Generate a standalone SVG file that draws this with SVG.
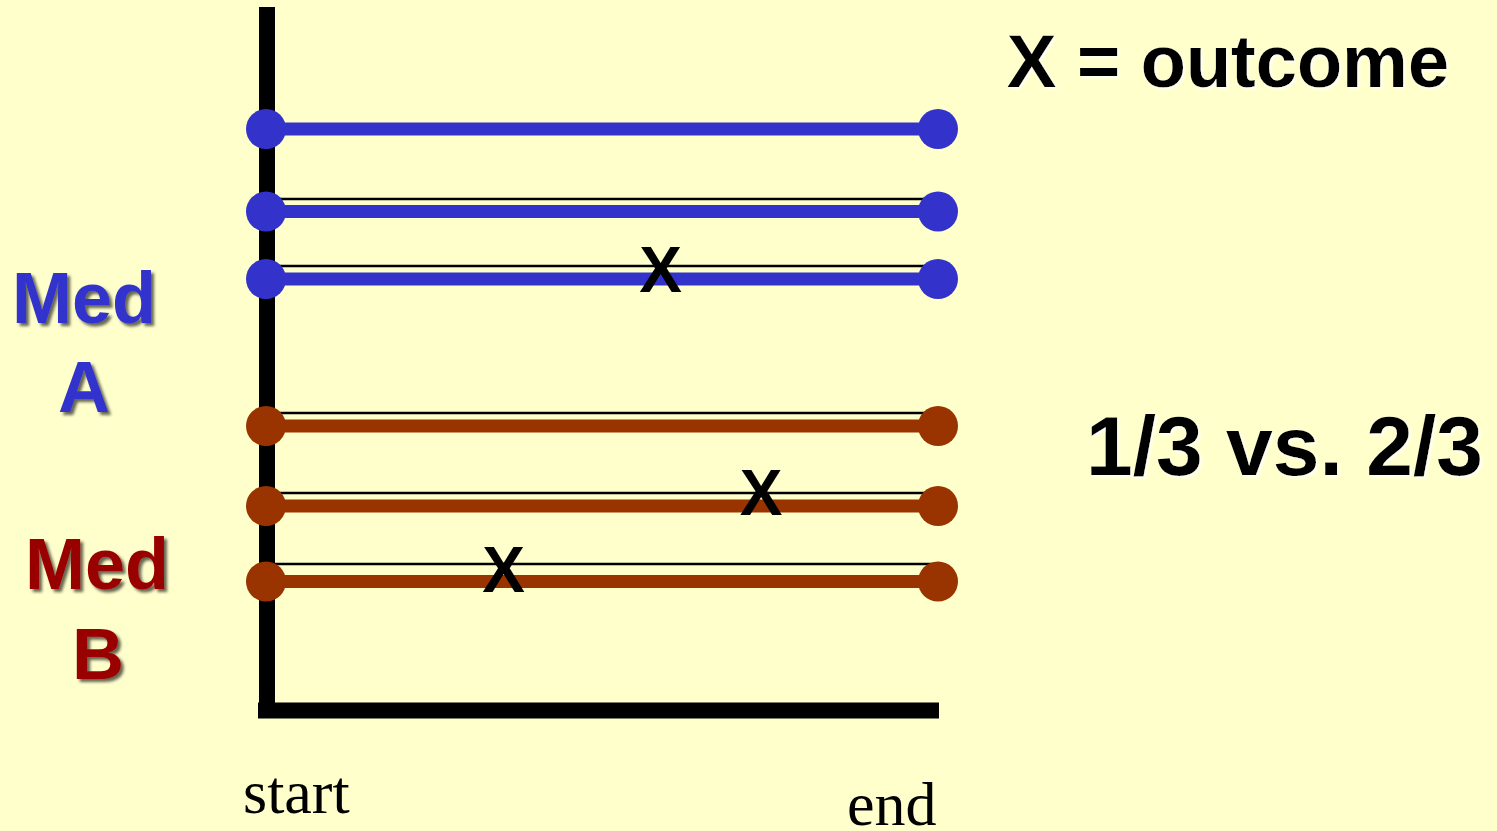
<svg xmlns="http://www.w3.org/2000/svg" width="1497" height="831" viewBox="0 0 1497 831">
  <defs>
    <filter id="darkShadow" x="-10%" y="-10%" width="130%" height="130%">
      <feDropShadow dx="3" dy="3" stdDeviation="1.5" flood-color="#000" flood-opacity="0.6"/>
    </filter>
    <filter id="lightShadow" x="-10%" y="-10%" width="130%" height="130%">
      <feDropShadow dx="2" dy="2" stdDeviation="1" flood-color="#fff" flood-opacity="0.8"/>
    </filter>
  </defs>
  <style>
    .thin { stroke: #000; stroke-width: 2.5; }
    .blue { stroke: #3333CC; stroke-width: 13; }
    .brown { stroke: #993300; stroke-width: 13; }
    .bdot { fill: #3333CC; }
    .rdot { fill: #993300; }
    .axis { stroke: #000; stroke-width: 16; fill: none; }
    .sans { font-family: "Liberation Sans", Arial, sans-serif; font-weight: bold; }
    .serif { font-family: "Liberation Serif", "Times New Roman", serif; font-size: 62px; fill: #000; }
    .mark { font-family: "Liberation Sans", Arial, sans-serif; font-weight: bold; font-size: 64px; fill: #000; text-anchor: middle; }
    .label { font-size: 72px; text-anchor: middle; filter: url(#darkShadow); }
  </style>
  <rect width="1497" height="831" fill="#FFFFCC"/>

  <g id="axes">
    <line class="axis" x1="267" y1="7" x2="267" y2="718"/>
    <line class="axis" x1="258" y1="710.5" x2="939" y2="710.5"/>
  </g>

  <g id="connectors">
    <line class="thin" x1="267" y1="199" x2="938" y2="199"/>
    <line class="thin" x1="267" y1="266" x2="938" y2="266"/>
    <line class="thin" x1="267" y1="413" x2="938" y2="413"/>
    <line class="thin" x1="267" y1="493" x2="938" y2="493"/>
    <line class="thin" x1="267" y1="564" x2="938" y2="564"/>
    <line class="blue" x1="266" y1="129" x2="938" y2="129"/>
    <line class="blue" x1="266" y1="211.5" x2="938" y2="211.5"/>
    <line class="blue" x1="266" y1="279" x2="938" y2="279"/>
    <line class="brown" x1="266" y1="426" x2="938" y2="426"/>
    <line class="brown" x1="266" y1="506" x2="938" y2="506"/>
    <line class="brown" x1="266" y1="581.5" x2="938" y2="581.5"/>
  </g>

  <g id="medA-1">
    <circle class="bdot" cx="266" cy="129" r="20"/>
    <circle class="bdot" cx="938" cy="129" r="20"/>
  </g>
  <g id="medA-2">
    <circle class="bdot" cx="266" cy="211.5" r="20"/>
    <circle class="bdot" cx="938" cy="211.5" r="20"/>
  </g>
  <g id="medA-3">
    <circle class="bdot" cx="266" cy="279" r="20"/>
    <circle class="bdot" cx="938" cy="279" r="20"/>
    <text class="mark" x="660.5" y="292">X</text>
  </g>
  <g id="medB-1">
    <circle class="rdot" cx="266" cy="426" r="20"/>
    <circle class="rdot" cx="938" cy="426" r="20"/>
  </g>
  <g id="medB-2">
    <circle class="rdot" cx="266" cy="506" r="20"/>
    <circle class="rdot" cx="938" cy="506" r="20"/>
    <text class="mark" x="761" y="515">X</text>
  </g>
  <g id="medB-3">
    <circle class="rdot" cx="266" cy="581.5" r="20"/>
    <circle class="rdot" cx="938" cy="581.5" r="20"/>
    <text class="mark" x="503.5" y="592">X</text>
  </g>

  <g id="label-medA">
    <text class="sans label" x="84" y="323" fill="#3333CC">Med</text>
    <text class="sans label" x="84" y="412" fill="#3333CC">A</text>
  </g>
  <g id="label-medB">
    <text class="sans label" x="97" y="589" fill="#990000">Med</text>
    <text class="sans label" x="98" y="679" fill="#990000">B</text>
  </g>

  <g id="legend">
    <text class="sans" x="1007" y="87" font-size="74" fill="#000" filter="url(#lightShadow)">X = outcome</text>
  </g>
  <g id="result">
    <text class="sans" x="1086" y="475" font-size="84" fill="#000" filter="url(#lightShadow)">1/3 vs. 2/3</text>
  </g>

  <g id="time-labels">
    <text class="serif" x="243" y="813">start</text>
    <text class="serif" x="847" y="825">end</text>
  </g>
</svg>
